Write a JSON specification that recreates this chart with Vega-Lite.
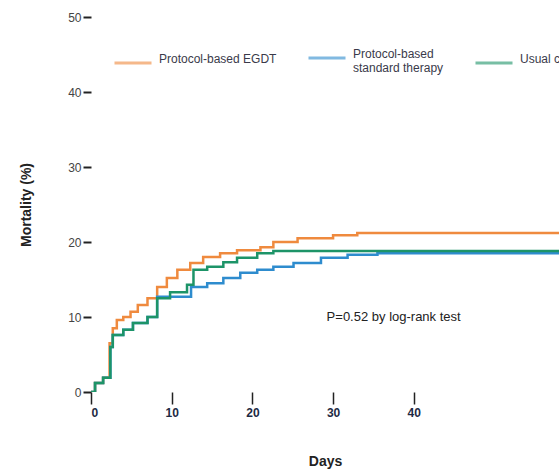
{
  "$schema": "https://vega.github.io/schema/vega-lite/v6.json",
  "width": 468,
  "height": 375,
  "autosize": {"type": "none"},
  "padding": {"left": 91, "top": 17, "right": 0, "bottom": 83},
  "background": "white",
  "config": {
    "view": {"stroke": null},
    "font": "Liberation Sans",
    "axis": {"grid": false, "domain": false, "tickColor": "#222"}
  },
  "data": {
    "values": [
      {"group": "Protocol-based EGDT", "day": 0, "mort": 0},
      {"group": "Protocol-based EGDT", "day": 0.5, "mort": 1.2},
      {"group": "Protocol-based EGDT", "day": 1.5, "mort": 1.9},
      {"group": "Protocol-based EGDT", "day": 2.3, "mort": 6.5},
      {"group": "Protocol-based EGDT", "day": 2.7, "mort": 8.5},
      {"group": "Protocol-based EGDT", "day": 3.2, "mort": 9.6},
      {"group": "Protocol-based EGDT", "day": 4.0, "mort": 10.0},
      {"group": "Protocol-based EGDT", "day": 4.9, "mort": 10.7},
      {"group": "Protocol-based EGDT", "day": 5.8, "mort": 11.6},
      {"group": "Protocol-based EGDT", "day": 7.0, "mort": 12.5},
      {"group": "Protocol-based EGDT", "day": 8.2, "mort": 14.0},
      {"group": "Protocol-based EGDT", "day": 9.4, "mort": 15.2},
      {"group": "Protocol-based EGDT", "day": 10.7, "mort": 16.3},
      {"group": "Protocol-based EGDT", "day": 12.3, "mort": 17.2},
      {"group": "Protocol-based EGDT", "day": 13.9, "mort": 18.0},
      {"group": "Protocol-based EGDT", "day": 16.0, "mort": 18.5},
      {"group": "Protocol-based EGDT", "day": 18.1, "mort": 18.9},
      {"group": "Protocol-based EGDT", "day": 21.0, "mort": 19.3},
      {"group": "Protocol-based EGDT", "day": 22.6, "mort": 20.0},
      {"group": "Protocol-based EGDT", "day": 25.6, "mort": 20.5},
      {"group": "Protocol-based EGDT", "day": 30.0, "mort": 20.9},
      {"group": "Protocol-based EGDT", "day": 33.0, "mort": 21.2},
      {"group": "Protocol-based EGDT", "day": 60.0, "mort": 21.2},
      {"group": "Protocol-based standard therapy", "day": 0, "mort": 0},
      {"group": "Protocol-based standard therapy", "day": 0.5, "mort": 1.2},
      {"group": "Protocol-based standard therapy", "day": 1.5, "mort": 1.9},
      {"group": "Protocol-based standard therapy", "day": 2.4, "mort": 6.0},
      {"group": "Protocol-based standard therapy", "day": 2.7, "mort": 7.6},
      {"group": "Protocol-based standard therapy", "day": 4.0, "mort": 8.3},
      {"group": "Protocol-based standard therapy", "day": 5.2, "mort": 9.2},
      {"group": "Protocol-based standard therapy", "day": 7.0, "mort": 10.0},
      {"group": "Protocol-based standard therapy", "day": 8.2, "mort": 12.7},
      {"group": "Protocol-based standard therapy", "day": 12.4, "mort": 14.0},
      {"group": "Protocol-based standard therapy", "day": 14.4, "mort": 14.5},
      {"group": "Protocol-based standard therapy", "day": 16.4, "mort": 15.2},
      {"group": "Protocol-based standard therapy", "day": 18.5, "mort": 15.9},
      {"group": "Protocol-based standard therapy", "day": 20.6, "mort": 16.3},
      {"group": "Protocol-based standard therapy", "day": 22.6, "mort": 16.7},
      {"group": "Protocol-based standard therapy", "day": 25.1, "mort": 17.2},
      {"group": "Protocol-based standard therapy", "day": 28.5, "mort": 17.9},
      {"group": "Protocol-based standard therapy", "day": 31.8, "mort": 18.3},
      {"group": "Protocol-based standard therapy", "day": 35.5, "mort": 18.5},
      {"group": "Protocol-based standard therapy", "day": 60.0, "mort": 18.5},
      {"group": "Usual care", "day": 0, "mort": 0},
      {"group": "Usual care", "day": 0.5, "mort": 1.2},
      {"group": "Usual care", "day": 1.5, "mort": 1.9},
      {"group": "Usual care", "day": 2.4, "mort": 6.0},
      {"group": "Usual care", "day": 2.7, "mort": 7.6},
      {"group": "Usual care", "day": 4.0, "mort": 8.3},
      {"group": "Usual care", "day": 5.2, "mort": 9.2},
      {"group": "Usual care", "day": 7.0, "mort": 10.0},
      {"group": "Usual care", "day": 8.2, "mort": 12.5},
      {"group": "Usual care", "day": 9.8, "mort": 13.3},
      {"group": "Usual care", "day": 11.9, "mort": 14.3},
      {"group": "Usual care", "day": 12.7, "mort": 16.3},
      {"group": "Usual care", "day": 14.4, "mort": 16.7},
      {"group": "Usual care", "day": 16.4, "mort": 17.3},
      {"group": "Usual care", "day": 18.1, "mort": 17.9},
      {"group": "Usual care", "day": 20.6, "mort": 18.5},
      {"group": "Usual care", "day": 22.6, "mort": 18.8},
      {"group": "Usual care", "day": 60.0, "mort": 18.8}
    ]
  },
  "layer": [
    {
      "mark": {"type": "line", "interpolate": "step-after", "strokeWidth": 2.5, "clip": true},
      "encoding": {
        "x": {
          "field": "day", "type": "quantitative",
          "scale": {"domain": [0, 58], "nice": false},
          "axis": {
            "values": [0, 10, 20, 30, 40], "title": "Days", "tickSize": 12, "tickWidth": 1.5,
            "labelFontSize": 12, "labelFontWeight": "bold", "labelColor": "#1d2a44",
            "labelPadding": 3, "titleFontSize": 14, "titleFontWeight": "bold",
            "titleColor": "#222", "titlePadding": 36
          }
        },
        "y": {
          "field": "mort", "type": "quantitative",
          "scale": {"domain": [0, 50], "nice": false},
          "axis": {
            "values": [0, 10, 20, 30, 40, 50], "title": "Mortality (%)", "tickSize": 8,
            "tickWidth": 2, "labelFontSize": 12, "labelColor": "#444", "labelPadding": 2,
            "titleFontSize": 14, "titleFontWeight": "bold", "titleColor": "#222", "titlePadding": 34
          }
        },
        "color": {
          "field": "group", "type": "nominal",
          "scale": {
            "domain": ["Protocol-based EGDT", "Protocol-based standard therapy", "Usual care"],
            "range": ["#ef8a3e", "#2e8cce", "#1d9468"]
          },
          "legend": {
            "title": null, "orient": "none", "direction": "horizontal",
            "legendX": 22, "legendY": 21, "symbolType": "stroke", "symbolSize": 1369,
            "symbolStrokeWidth": 3, "symbolOpacity": 0.6, "labelFontSize": 12,
            "labelColor": "#3a3a4a", "columnPadding": 25, "labelOffset": 6,
            "labelLimit": 300, "labelBaseline": "alphabetic",
            "labelExpr": "datum.label == 'Protocol-based standard therapy' ? ['Protocol-based', 'standard therapy'] : datum.label"
          }
        }
      }
    },
    {
      "data": {"values": [{"label": "P=0.52 by log-rank test"}]},
      "mark": {"type": "text", "align": "left", "baseline": "middle", "fontSize": 13, "color": "#222"},
      "encoding": {
        "x": {"datum": 29.2},
        "y": {"datum": 10},
        "text": {"field": "label", "type": "nominal"}
      }
    }
  ]
}
